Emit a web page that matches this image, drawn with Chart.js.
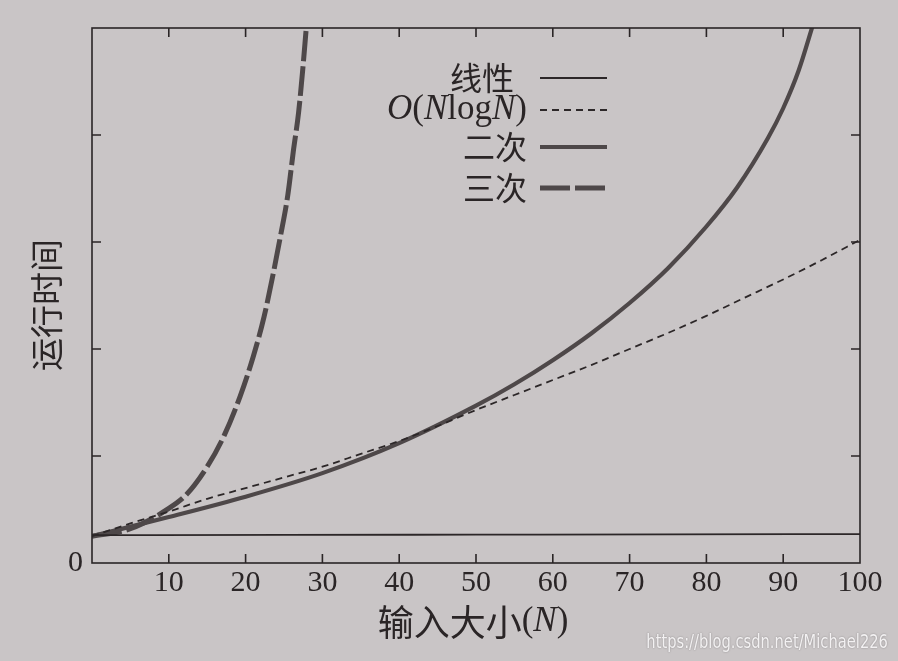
<!DOCTYPE html>
<html>
<head>
<meta charset="utf-8">
<script src="https://cdn.jsdelivr.net/npm/chart.js@4.4.1/dist/chart.umd.min.js"></script>
<style>
  html, body { margin: 0; padding: 0; background: #c9c5c6; }
  #wrap { position: relative; width: 898px; height: 661px; }
  #mark {
    position: absolute; right: 10px; bottom: 9px;
    font: 19px "Liberation Sans Narrow", "DejaVu Sans Condensed", sans-serif;
    color: #f3f1f2; text-shadow: 0 0 2px rgba(0, 0, 0, 0.35);
    transform: scaleX(0.86); transform-origin: right center;
  }
</style>
</head>
<body>
<div id="wrap">
  <canvas id="runtimeChart" width="898" height="661"></canvas>
  <div id="mark">https://blog.csdn.net/Michael226</div>
</div>
<script>
// values (runtime in frame units, 5 = top edge)
const xTicks = [10, 20, 30, 40, 50, 60, 70, 80, 90, 100];
const yTicks = [0, 1, 2, 3, 4, 5];
const seriesNames = ['线性', 'O(NlogN)', '二次', '三次'];

const linearN = [0, 25, 50, 75, 100];
const linearT = [0.26, 0.262, 0.265, 0.268, 0.27];

const nlognN = [0, 5, 10, 15, 20, 25, 30, 35, 40, 45, 50, 55, 60, 65, 70, 75, 80, 85, 90, 95, 100];
const nlognT = [0.25, 0.37, 0.48, 0.60, 0.70, 0.80, 0.90, 1.02, 1.14, 1.28, 1.43, 1.57, 1.71, 1.85, 2.00, 2.15, 2.31, 2.48, 2.65, 2.83, 3.02];

const quadN = [0, 10, 20, 30, 40, 50, 55, 60, 65, 70, 75, 80, 84, 88, 90, 92, 94];
const quadT = [0.25, 0.43, 0.62, 0.84, 1.12, 1.47, 1.67, 1.895, 2.145, 2.43, 2.755, 3.145, 3.51, 3.97, 4.25, 4.60, 5.06];

const cubeN = [0, 5, 10, 12.3, 15, 17.2, 19.3, 21.0, 22.4, 23.5, 24.5, 25.5, 26.2, 26.9, 27.4, 27.9];
const cubeT = [0.25, 0.32, 0.51, 0.64, 0.90, 1.19, 1.56, 1.93, 2.30, 2.67, 3.04, 3.44, 3.84, 4.21, 4.58, 5.0];

const toPoints = (xs, ys) => xs.map((x, i) => ({ x: x, y: ys[i] }));

const CJK = '"Noto Sans CJK SC", sans-serif';
const SERIF = '"Liberation Serif", "DejaVu Serif", serif';
const INK = '#2a2526';

// mixed text: chinese in CJK font, latin in serif, O and N in italic
function drawRich(ctx, text, x, y, align, cjkSize, latinSize) {
  const parts = text.split(/([\u4e00-\u9fff]+|[ON])/).filter(s => s.length);
  const fonts = parts.map(s => {
    if (/[\u4e00-\u9fff]/.test(s)) return cjkSize + 'px ' + CJK;
    if (/^[ON]$/.test(s)) return 'italic ' + latinSize + 'px ' + SERIF;
    return latinSize + 'px ' + SERIF;
  });
  let total = 0;
  const widths = parts.map((s, i) => { ctx.font = fonts[i]; const w = ctx.measureText(s).width; total += w; return w; });
  let cx = align === 'right' ? x - total : align === 'center' ? x - total / 2 : x;
  ctx.textAlign = 'left';
  ctx.textBaseline = 'middle';
  parts.forEach((s, i) => { ctx.font = fonts[i]; ctx.fillText(s, cx, y); cx += widths[i]; });
}

const bookFrame = {
  id: 'bookFrame',
  afterDatasetsDraw(chart) {
    const { ctx, chartArea: a, scales: { x, y } } = chart;
    ctx.save();
    ctx.strokeStyle = INK;
    ctx.lineWidth = 1.6;
    ctx.strokeRect(a.left, a.top, a.right - a.left, a.bottom - a.top);
    ctx.beginPath();
    xTicks.slice(0, -1).forEach(v => {
      const px = x.getPixelForValue(v);
      ctx.moveTo(px, a.bottom); ctx.lineTo(px, a.bottom - 9);
      ctx.moveTo(px, a.top); ctx.lineTo(px, a.top + 9);
    });
    yTicks.slice(1, -1).forEach(v => {
      const py = y.getPixelForValue(v);
      ctx.moveTo(a.left, py); ctx.lineTo(a.left + 9, py);
      ctx.moveTo(a.right, py); ctx.lineTo(a.right - 9, py);
    });
    ctx.stroke();
    ctx.restore();
  },
  afterDraw(chart) {
    const { ctx } = chart;
    ctx.save();
    ctx.fillStyle = INK;
    // legend inside the frame, text right-aligned, line sample on the right
    const rows = [78, 110, 147, 188];
    chart.data.datasets.forEach((ds, i) => {
      drawRich(ctx, ds.label, i === 0 ? 514 : 527, rows[i], 'right', 32, 35);
      ctx.beginPath();
      ctx.strokeStyle = ds.borderColor;
      ctx.lineWidth = ds.borderWidth;
      ctx.setLineDash(ds.borderDash || []);
      ctx.moveTo(540, rows[i]);
      ctx.lineTo(607, rows[i]);
      ctx.stroke();
    });
    ctx.setLineDash([]);
    // axis titles
    drawRich(ctx, '输入大小(N)', 473, 622, 'center', 36, 35);
    ctx.translate(46, 305);
    ctx.rotate(-Math.PI / 2);
    drawRich(ctx, '运行时间', 0, 0, 'center', 33, 33);
    ctx.restore();
  }
};

new Chart(document.getElementById('runtimeChart'), {
  type: 'line',
  data: {
    datasets: [
      { label: seriesNames[0], data: toPoints(linearN, linearT), borderColor: '#2c2728', borderWidth: 1.8 },
      { label: seriesNames[1], data: toPoints(nlognN, nlognT), borderColor: '#2c2728', borderWidth: 1.8, borderDash: [7, 5] },
      { label: seriesNames[2], data: toPoints(quadN, quadT), borderColor: '#4e4849', borderWidth: 4.2 },
      { label: seriesNames[3], data: toPoints(cubeN, cubeT), borderColor: '#4e4849', borderWidth: 5, borderDash: [30, 5] }
    ]
  },
  options: {
    responsive: false,
    animation: false,
    devicePixelRatio: 1,
    layout: { padding: { top: 28, right: 38, left: 0, bottom: 0 } },
    elements: {
      point: { radius: 0 },
      line: { cubicInterpolationMode: 'monotone', fill: false }
    },
    plugins: { legend: { display: false }, tooltip: { enabled: false } },
    scales: {
      x: {
        type: 'linear', min: 0, max: 100,
        grid: { display: false, drawTicks: false },
        border: { display: false },
        ticks: {
          stepSize: 10, autoSkip: false, maxRotation: 0, padding: 2, color: INK,
          font: { family: SERIF, size: 30, lineHeight: 1.2 },
          callback: v => xTicks.includes(v) ? String(v) : ''
        },
        afterFit: s => { s.height = 98; }
      },
      y: {
        min: 0, max: 5,
        grid: { display: false, drawTicks: false },
        border: { display: false },
        ticks: {
          stepSize: 1, padding: 9, color: INK,
          font: { family: SERIF, size: 30, lineHeight: 1.2 },
          callback: v => v === yTicks[0] ? '0' : ''
        },
        afterFit: s => { s.width = 92; }
      }
    }
  },
  plugins: [bookFrame]
});
</script>
</body>
</html>
